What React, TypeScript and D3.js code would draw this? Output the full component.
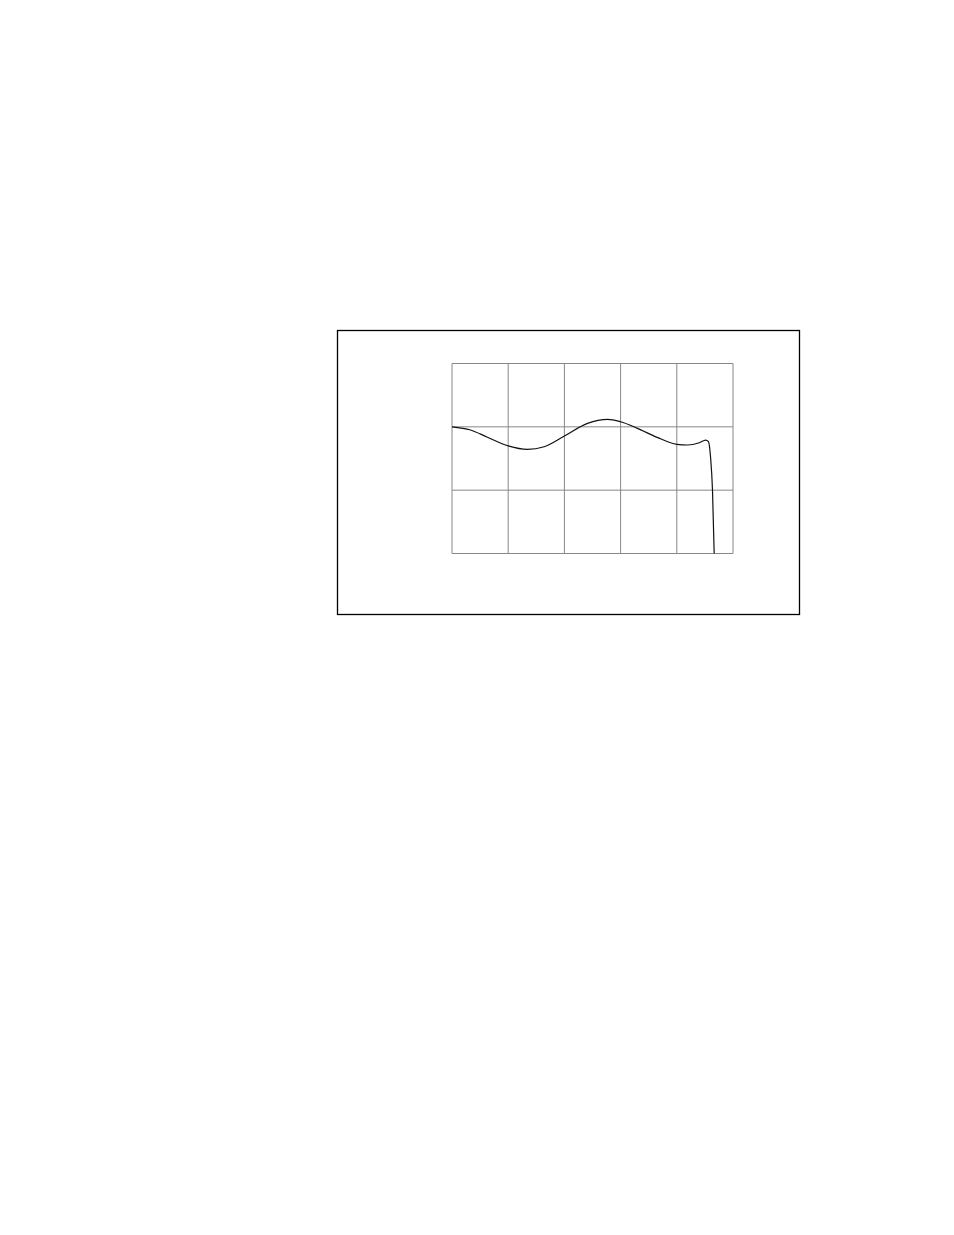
import React from 'react';
import * as d3 from 'd3';

// curve: x in grid columns (0-5), y in grid rows (0-3)
const curveX = [0, 0.33, 0.62, 1.0, 1.34, 1.64, 2.0, 2.41, 2.77, 3.0, 3.3, 3.65, 4.0, 4.19, 4.4, 4.515, 4.563, 4.6, 4.635, 4.665];
const curveY = [2.0, 1.95, 1.84, 1.7, 1.645, 1.686, 1.854, 2.054, 2.118, 2.08, 1.976, 1.834, 1.724, 1.713, 1.749, 1.791, 1.765, 1.528, 1.004, 0];
const xTicks = [0, 1, 2, 3, 4, 5];
const yTicks = [0, 1, 2, 3];

const App: React.FC = () => {
  const width = 954;
  const height = 1235;
  const plot = { left: 452, right: 733, top: 363.5, bottom: 553.5 };

  const x = d3.scaleLinear().domain([0, 5]).range([plot.left, plot.right]);
  const y = d3.scaleLinear().domain([0, 3]).range([plot.bottom, plot.top]);

  const data = curveX.map((v, i) => ({ x: v, y: curveY[i] }));
  const line = d3.line<{ x: number; y: number }>()
    .x(d => x(d.x))
    .y(d => y(d.y))
    .curve(d3.curveMonotoneX);

  return (
    <svg width={width} height={height} style={{ position: 'absolute', left: 0, top: 0 }}>
      <rect x={337.5} y={330.5} width={462} height={284} fill="#fff" stroke="#000" strokeWidth={1.3} />
      {xTicks.map(t => (
        <line key={'x' + t} x1={x(t)} x2={x(t)} y1={y(0)} y2={y(3)} stroke="#888" strokeWidth={1} />
      ))}
      {yTicks.map(t => (
        <line key={'y' + t} x1={x(0)} x2={x(5)} y1={y(t)} y2={y(t)} stroke="#888" strokeWidth={1} />
      ))}
      <path d={line(data) || ''} fill="none" stroke="#111" strokeWidth={1.2} />
    </svg>
  );
};

export default App;
